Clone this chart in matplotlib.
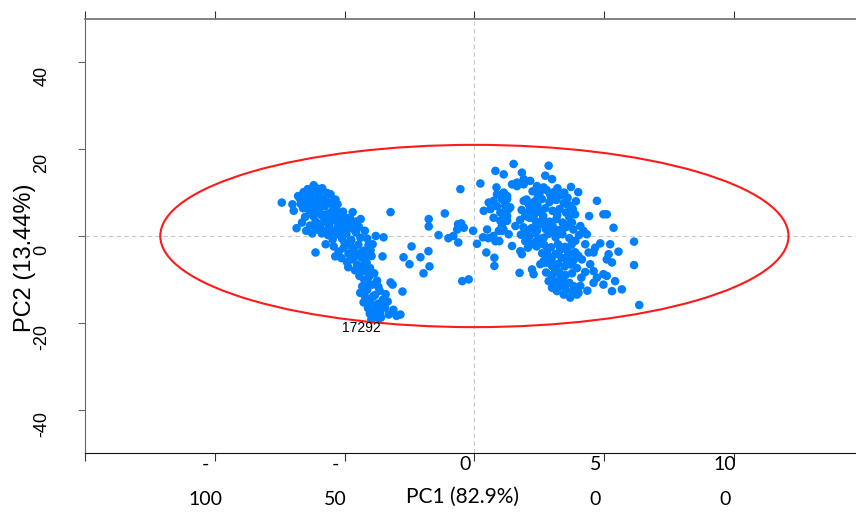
import matplotlib
matplotlib.use("Agg")
import matplotlib.pyplot as plt
import matplotlib.transforms as mtransforms
from matplotlib.patches import Ellipse

# scores (PC1, PC2)
left_pc1 = [-74.2, -70.1, -69.6, -68.5, -65.8, -64.2, -61.9, -67.2, -66.0, -64.5, -63.0, -61.5, -60.0, -58.4,
            -56.8, -55.4, -52.7, -65.2, -63.6, -62.1, -60.7, -59.2, -57.6, -56.0, -54.3, -52.4, -50.6, -48.9,
            -46.9, -43.8, -66.4, -63.3, -61.2, -59.5, -57.8, -55.9, -54.1, -52.5, -50.7, -48.6, -46.7, -61.2,
            -57.3, -58.8, -56.4, -54.6, -52.8, -51.0, -49.3, -47.4, -45.6, -43.9, -42.2, -64.8, -62.5, -60.3,
            -58.0, -53.5, -58.6, -62.8, -67.9, -60.4, -56.2, -50.2, -45.1, -32.3,
            -66.9, -65.0, -63.1, -61.0, -59.0, -57.1, -55.2, -53.3, -51.4, -49.6, -47.7, -64.0, -62.2, -59.9,
            -57.9, -55.6, -53.8, -51.9, -49.9, -48.0, -46.2, -44.5, -60.9, -58.9, -56.7, -54.8, -52.9, -50.8,
            -54.2, -52.3, -50.4, -48.5, -46.6, -44.7, -42.6, -40.8, -51.2, -49.1, -47.3, -45.2, -43.4, -41.5,
            -39.6, -38.0, -35.0, -35.4, -44.1, -42.0, -53.6, -48.0, -41.3, -39.2, -46.0, -40.2,
            -50.0, -47.9, -45.9, -43.9, -41.9, -40.0, -48.6, -46.4, -44.6, -42.8,
            -44.3, -42.4, -40.5, -38.6, -43.2, -41.3, -39.4, -37.5, -44.0, -42.1, -40.2, -38.3, -36.5, -41.0,
            -39.1, -37.2, -35.3, -38.4, -36.3, -34.4, -33.0, -31.2, -30.0, -28.5, -36.0, -31.5, -27.7, -32.3,
            -34.2, -42.7, -39.7, -33.4, -42.9, -41.0, -39.0, -37.0, -35.6, -40.3, -38.1, -36.8]
left_pc2 = [7.7, 7.3, 5.8, 1.8, 10.1, 10.8, 11.7, 8.6, 6.4, 8.2, 9.3, 7.9, 9.8, 8.6,
            9.9, 9.6, 7.3, 4.4, 5.9, 4.6, 6.2, 4.9, 6.8, 5.2, 6.3, 4.8, 5.6, 4.1,
            5.5, 3.9, 3.1, 2.4, 3.3, 2.0, 3.4, 2.3, 3.6, 2.2, 2.9, 1.8, 2.7, -3.8,
            -1.9, 0.6, 0.2, -0.8, 0.4, -0.6, 0.5, -0.9, 0.8, -0.4, 1.2, 1.2, 0.6, 1.5,
            1.0, 8.4, 11.0, 10.5, 9.2, 10.9, 7.6, 3.2, 3.4, 5.5,
            7.4, 8.9, 7.1, 8.5, 7.2, 8.0, 7.7, 6.1, 4.3, 3.3, 3.9, 6.8, 5.5, 5.7,
            4.8, 4.2, 5.1, 3.8, 2.1, 2.6, 1.4, 2.1, 1.9, 2.9, 1.3, 1.1, 1.6, 1.0,
            -2.4, -3.6, -2.8, -4.1, -2.9, -2.0, -3.4, -2.1, -5.1, -6.0, -5.4, -6.6, -5.0, -6.2,
            -4.6, 0.0, -0.3, -4.7, -7.6, -8.1, -4.7, -1.3, -0.6, -1.9, -7.9, -7.4,
            -1.6, -2.2, -4.3, -3.9, -4.8, -3.3, -7.2, -5.0, -4.2, -6.8,
            -9.2, -10.1, -9.3, -8.6, -11.6, -12.4, -11.2, -10.3, -13.1, -14.0, -15.1, -13.6, -12.6, -16.6,
            -17.2, -15.6, -14.7, -18.6, -17.6, -16.5, -18.1, -17.0, -18.4, -18.1, -18.8, -11.2, -12.8, -10.7,
            -13.4, -15.3, -19.2, -15.1, -12.3, -10.9, -13.9, -11.7, -16.0, -17.9, -16.3, -19.0]

mid_pc1 = [-24.2, -27.3, -20.8, -17.7, -25.0, -17.3, -19.6, -17.6, -17.6, -11.4, -13.8, -10.0, -8.1, -6.2,
           -5.4, -6.3, -5.1, -4.1, -6.6, -0.5, 1.0, 2.3, -4.7, -2.2, 4.6, 3.3, 5.4, 7.3, 9.6, 10.6, 11.2,
           7.7, 7.7, 4.9]
mid_pc2 = [-2.4, -4.9, -4.9, -3.5, -6.5, -7.0, -8.6, 3.9, 2.2, 5.2, 0.2, -0.5, 0.0, -1.5,
           10.8, 2.7, 2.9, 1.9, 1.5, 1.2, -1.8, 12.1, -10.4, -10.0, -3.8, -0.3, -0.5, 0.0, -1.2, 1.2, 1.5,
           -5.0, -6.9, 1.5]

right_pc1 = [8.5, 8.1, 11.3, 15.1, 18.3, 28.6, 27.3, 29.9, 8.7, 10.6, 11.9, 6.2, 7.4, 12.6, 11.3, 10.6, 12.6,
             13.2, 7.4, 10.0, 9.4, 8.1, 3.6, 5.5, 8.7, 10.0, 11.9, 12.6, 13.2, 11.3, 12.6, 14.5, 16.4, 19.0,
             21.5, 24.1, 26.7, 16.4, 19.0, 13.8, 15.8, 14.5, 17.7, 18.3, 17.4, 22.2, 22.8, 19.0, 20.9, 21.5,
             19.6, 20.2, 19.6, 22.2, 24.1, 26.7, 28.0, 26.7, 25.4, 28.6, 29.9, 31.8, 34.4, 36.9, 39.5,
             22.4, 25.1, 27.8, 30.6, 33.2, 35.9, 37.2, 40.0,
             20.1, 23.3, 26.0, 28.9, 31.5, 34.4, 36.8, 35.6, 39.1,
             18.2, 22.8, 24.9, 27.3, 30.1, 32.8, 35.3, 38.8, 37.6,
             17.6, 21.2, 23.6, 26.4, 28.9, 31.6, 34.0, 36.5, 40.8, 42.0,
             18.9, 22.0, 24.6, 27.5, 30.2, 32.7, 35.2, 38.1, 43.3, 40.3,
             17.9, 21.1, 23.5, 25.9, 28.6, 31.3, 33.9, 36.6, 38.9, 42.7,
             20.6, 24.0, 26.8, 29.5, 32.2, 34.9, 37.4, 38.8, 40.1, 41.4,
             26.1, 28.7, 31.2, 33.6, 36.1, 38.2,
             27.4, 29.9, 32.3, 34.8, 37.3, 39.5,
             27.6, 30.2, 32.6, 35.1, 37.6,
             29.2, 31.6, 34.1, 36.6, 38.4,
             30.3, 32.8, 35.2, 37.7,
             24.5, 29.4, 32.0, 23.0, 27.0, 30.8, 33.0, 35.7, 31.0, 34.5,
             21.0, 24.3, 26.5, 29.0, 31.9, 34.6, 37.9, 19.8, 23.9, 28.2, 33.5, 36.0, 29.7, 33.2, 35.8,
             47.2, 44.2, 49.7, 51.0, 53.6, 61.5, 61.5, 63.5, 56.8, 53.0, 54.2, 55.5, 52.3, 48.5, 53.0, 51.0,
             51.7, 45.9, 46.5, 44.0, 44.6, 45.9, 49.7, 51.0, 47.2, 49.7, 45.9, 40.8, 40.1, 38.8, 42.7, 43.5,
             41.2]
right_pc2 = [11.2, 15.0, 14.2, 16.6, 14.6, 16.2, 13.9, 13.1, 9.6, 8.5, 6.9, 6.2, 8.1, 9.2, 5.0, 2.3, 3.5,
             0.4, 4.2, 3.5, 1.2, -1.2, 5.8, 7.7, 6.9, 5.4, 7.7, 4.6, 6.2, 10.0, 8.5, 11.9, 12.3, 13.1,
             12.7, 11.5, 11.2, 11.5, 11.9, 6.6, 2.3, -2.3, -3.5, -4.2, -8.5, -7.7, -8.8, 8.1, 7.3, 6.2,
             4.6, 1.2, -1.2, -1.9, 1.2, -0.4, -4.2, -5.8, -6.5, -10.4, -11.9, -12.7, -13.5, -14.2, -13.5,
             10.3, 9.8, 10.6, 10.1, 9.4, 8.8, 11.3, 10.1,
             8.4, 8.0, 8.5, 7.8, 8.3, 7.6, 7.0, 7.3, 8.0,
             6.0, 6.1, 5.6, 6.4, 5.8, 6.2, 5.4, 5.0, 3.1,
             3.7, 4.2, 3.4, 4.0, 3.3, 3.9, 3.1, 4.4, 2.3, 1.2,
             2.0, 1.8, 2.5, 1.6, 2.2, 1.4, 2.0, 1.5, 0.4, 0.2,
             0.3, -0.2, 0.6, -0.6, 0.5, -0.3, 0.4, -0.5, -1.1, -1.9,
             -2.7, -2.4, -2.0, -2.6, -1.9, -2.5, -2.0, -3.8, -4.6, -5.4,
             -4.0, -4.8, -4.2, -5.0, -4.4, -5.6,
             -6.2, -6.9, -6.4, -7.0, -6.6, -7.4,
             -8.4, -8.9, -8.3, -9.0, -8.6,
             -10.1, -10.6, -10.2, -10.8, -11.6,
             -12.0, -11.6, -12.4, -12.9,
             9.0, 9.2, 11.0, 4.9, 2.9, 0.9, -3.2, -5.9, -7.6, -11.4,
             5.3, 7.1, 4.6, 9.9, 4.8, 10.0, 6.2, 0.8, -1.2, -3.0, 0.9, 2.6, -5.4, -9.7, -3.4,
             8.1, 4.6, 5.0, 5.0, 1.9, -1.3, -6.7, -15.9, -12.3, -12.7, -10.4, -3.6, -1.9, -1.7, -6.1, -5.4,
             -4.2, -3.8, -2.7, -3.8, -6.5, -8.1, -8.8, -9.2, -9.6, -11.2, -10.8, -11.5, -13.1, -3.8, -8.3, -12.6,
             -9.6]

pc1 = left_pc1 + mid_pc1 + right_pc1
pc2 = left_pc2 + mid_pc2 + right_pc2

label_text = "17292"
label_pos = (-43.5, -21.3)

ellipse_w = 242
ellipse_h = 42

x_ticks = [-150, -100, -50, 0, 50, 100]
x_ticklabels = ["", "-\n100", "-\n50", "0", "5\n0", "10\n0"]
y_ticks = [-40, -20, 0, 20, 40]

fig = plt.figure(figsize=(8.56, 5.18), dpi=100)
ax = fig.add_axes([85 / 856, 65 / 518, 1 - 85 / 856, 434 / 518])

ax.axvline(0, color="#c8c8c8", lw=0.8, ls=(0, (4, 3)), zorder=0)
ax.axhline(0, color="#c8c8c8", lw=0.8, ls=(0, (4, 3)), zorder=0)

ax.scatter(pc1, pc2, s=38, color="#0080ff", edgecolors="none", zorder=3)
ax.add_patch(Ellipse((0, 0), ellipse_w, ellipse_h, fill=False, edgecolor="#ff1a1a", lw=1.5, zorder=4))
ax.text(label_pos[0], label_pos[1], label_text, fontsize=10, ha="center", va="center",
        family="Liberation Sans", zorder=5)

ax.set_xlim(-150, 147)
ax.set_ylim(-50, 50)

ax.spines["right"].set_visible(False)
ax.spines["left"].set_color("#666666")
ax.spines["top"].set_color("#777777")
ax.spines["top"].set_linewidth(1.3)
ax.spines["bottom"].set_color("#111111")

ax.set_xticks(x_ticks)
ax.set_xticklabels(x_ticklabels, family=["Lato", "DejaVu Sans"], fontsize=14, linespacing=2.3)
ax.tick_params(axis="x", which="both", top=True, direction="out", length=6, pad=-4, color="#333333")
ax.set_yticks(y_ticks)
ax.set_yticklabels([str(v) for v in y_ticks], rotation=90, va="center", family="Liberation Sans", fontsize=13)
ax.tick_params(axis="y", direction="out", length=5, pad=20, color="#666666")

dx = mtransforms.ScaledTranslation(-9 / 100, 0, fig.dpi_scale_trans)
for lab in ax.get_xticklabels():
    lab.set_transform(lab.get_transform() + dx)
dy = mtransforms.ScaledTranslation(0, -14 / 100, fig.dpi_scale_trans)
for lab in ax.get_yticklabels():
    lab.set_transform(lab.get_transform() + dy)

fig.text(462 / 856, 1 - 503 / 518, "PC1 (82.9%)", ha="center", va="baseline",
         family=["Lato", "DejaVu Sans"], fontsize=15)
fig.text(25 / 856, 1 - 258 / 518, "PC2 (13.44%)", ha="center", va="center", rotation=90,
         family="Liberation Sans", fontsize=17)

fig.savefig("out.png", dpi=100)
